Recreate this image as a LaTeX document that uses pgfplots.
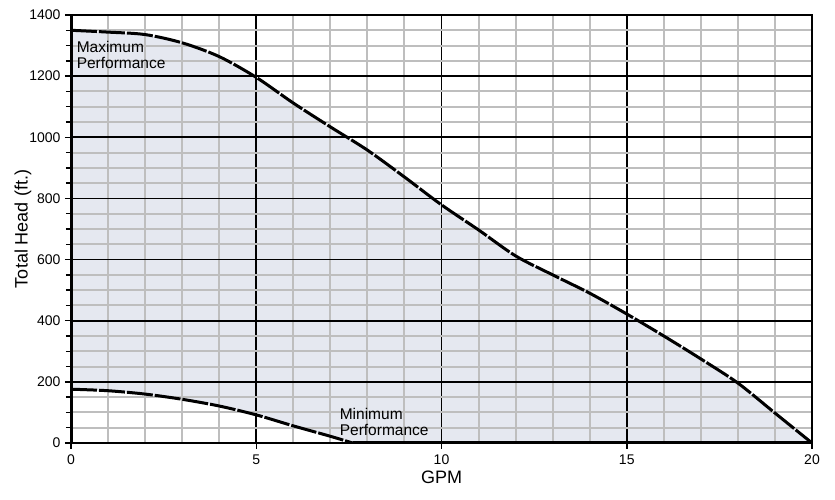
\documentclass[border=0pt]{standalone}
\usepackage{fontspec}
\setmainfont{Liberation Sans}
\usepackage{pgfplots}
\pgfplotsset{compat=1.18}
\definecolor{fillc}{RGB}{229,232,240}
\definecolor{gridgray}{RGB}{190,190,190}
\begin{document}
\begin{tikzpicture}
\begin{axis}[
  set layers,
  scale only axis,
  width=741pt, height=428pt,
  xmin=0, xmax=20, ymin=0, ymax=1400,
  xtick={0,5,10,15,20},
  ytick={0,200,...,1400},
  minor x tick num=4,
  minor y tick num=3,
  grid=both,
  major grid style={black, line width=1.6pt},
  minor grid style={gridgray, line width=2pt},
  axis line style={black, line width=2pt},
  tick align=outside,
  major tick length=6pt,
  minor tick length=5pt,
  major tick style={black, line width=1.5pt},
  minor y tick style={black, line width=1.5pt},
  minor x tick style={draw=none},
  xtick pos=bottom, ytick pos=left,
  /pgf/number format/assume math mode=true,
  /pgf/number format/set thousands separator={},
  tick label style={font=\fontsize{14pt}{16pt}\selectfont},
  label style={font=\fontsize{18pt}{21pt}\selectfont},
  xlabel={GPM},
  ylabel={Total Head (ft.)},
  ylabel shift=-9pt,
  xticklabel style={yshift=-2pt},
  yticklabel style={xshift=-1pt},
]
\addplot[fill=fillc, draw=none, on layer=axis background] coordinates {
 (0,1350)(1,1344)(2,1336)(3,1309)(4,1264)(5,1196)(6,1112)(7,1034)(8,958)(9,870)(10,779)(11,697)(12,612)(13,550)(14,490)(15,422)(16,350)(17,275)(18,196)(19,98)(20,0)
 (7.6,0)(7,22)(6,56)(5,92)(4,121)(3,143)(2,160)(1,171)(0,176)
} -- cycle;
\addplot[black, line width=3pt, dash pattern=on 26pt off 2pt, smooth, tension=0.5] coordinates {
 (0,1350)(1,1344)(2,1336)(3,1309)(4,1264)(5,1196)(6,1112)(7,1034)(8,958)(9,870)(10,779)(11,697)(12,612)(13,550)(14,490)(15,422)(16,350)(17,275)(18,196)(19,98)(20,0)
};
\addplot[black, line width=3pt, dash pattern=on 26pt off 2pt, smooth, tension=0.5] coordinates {
 (0,176)(1,171)(2,160)(3,143)(4,121)(5,92)(6,56)(7,22)(7.6,0)
};
\addplot[black, line width=3pt] coordinates {(7.6,0)(20,0)};
\draw[black, line width=3.5pt] (rel axis cs:0,0) -- (rel axis cs:0,1);
\node[anchor=north west, align=left, font=\fontsize{15.5pt}{16.5pt}\selectfont, inner sep=0pt] at (axis cs:0.15,1315) {Maximum\\Performance};
\node[anchor=north west, align=left, font=\fontsize{15.5pt}{16.5pt}\selectfont, inner sep=0pt] at (axis cs:7.25,115) {Minimum\\Performance};
\end{axis}
\pgfresetboundingbox
\path[use as bounding box] ([xshift=-71pt,yshift=-57pt]current axis.south west) rectangle ([xshift=23pt,yshift=15pt]current axis.north east);
\end{tikzpicture}
\end{document}
